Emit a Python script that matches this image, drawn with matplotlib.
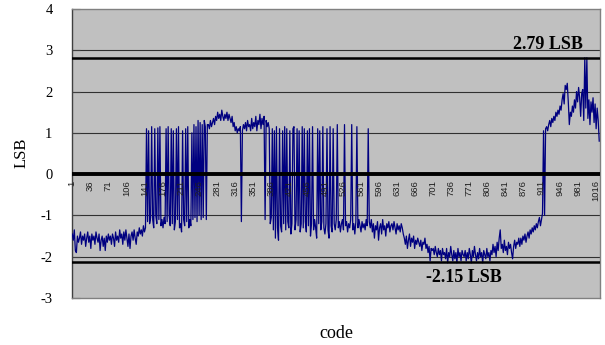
import numpy as np
import matplotlib
matplotlib.use("Agg")
import matplotlib.pyplot as plt

plt.rcParams["axes.unicode_minus"] = False

# ---- data (one value every 2 codes: 1, 3, 5, ...) ----
seg_a = [-1.45, -1.6, -1.35, -1.85, -1.9, -1.5, -1.65, -1.55, -1.4, -1.7, -1.5, -1.6,
         -1.45, -1.75, -1.55, -1.4, -1.65, -1.5, -1.8, -1.45, -1.6, -1.5, -1.7, -1.4,
         -1.55, -1.65, -1.45, -1.85, -1.6, -1.5, -1.75, -1.55, -1.85, -1.5, -1.65, -1.45,
         -1.6, -1.5, -1.7, -1.45, -1.55, -1.75, -1.4, -1.6, -1.5, -1.65, -1.35, -1.55,
         -1.45, -1.7, -1.4, -1.6, -1.35, -1.55, -1.75, -1.45, -1.8, -1.5, -1.4, -1.6,
         -1.35, -1.55, -1.7, -1.4, -1.5, -1.3, -1.45, -1.35, -1.5, -1.25, -1.4, -1.3]
seg_b = [1.1, -1.15, 1.05, -1.2, -1.05, 1.15, -1.1, -1.3, 1.1, -1.0,
         -1.2, 1.12, -1.1, 1.15, -1.25, -1.1, -1.3, -1.05, -1.2, 1.1,
         -1.15, 1.15, -1.0, -1.25, 1.1, -1.2, 1.05, -1.35, -1.15, 1.1,
         -1.1, 1.15, -1.3, -1.2, -1.4, 1.05, -1.1, -1.25, 1.1, -1.15,
         1.15, -1.3, -1.1, -1.25, 1.0, -1.1, 1.2, -1.05, 1.15, -1.15,
         1.3, -1.0, 1.25, -1.1, 1.2, -1.05, 1.3, 1.15, -1.1, 1.2]
seg_c = [1.2, 1.1, 1.3, 1.15, 1.25, 1.35, 1.2, 1.4, 1.3, 1.5,
         1.35, 1.45, 1.3, 1.55, 1.4, 1.3, 1.45, 1.35, 1.5, 1.3,
         1.45, 1.35, 1.25, 1.4, 1.15, 1.25, 1.05, 1.15, 1.0, 1.1,
         1.05, 1.15, -1.15, 1.05, 1.2, 1.1, 1.25, 1.05, 1.3, 1.15,
         1.2, 1.05, 1.35, 1.1, 1.25, 1.15, 1.4, 1.05, 1.3, 1.2,
         1.45, 1.1, 1.35, 1.2, 1.4, -1.1, 1.3, 1.15, 1.25, 1.1]
seg_d = [-1.2, -1.05, 1.1, -1.35, 1.05, -1.55, 1.15, -1.3, -1.6, 1.1,
         -1.25, -1.4, 1.05, -1.2, 1.15, -1.35, 1.1, -1.15, -1.3, 1.05,
         -1.45, -1.2, 1.1, 1.15, -1.35, -1.1, 1.1, -1.25, 1.05, -1.4,
         -1.2, 1.15, -1.3, 1.1, -1.15, -1.4, 1.05, -1.25, 1.1, -1.5,
         -1.2, 1.15, -1.35, -1.1, -1.3, -1.55, 1.1, -1.2, 1.05, -1.35,
         -1.15, 1.15, -1.3, -1.45, -1.2, 1.1, -1.35, -1.55, 1.15, -1.25,
         -1.4, 1.1, -1.2, -1.35, -1.1, 1.2, -1.3, -1.15, -1.4, -1.2,
         -1.1, -1.35, 1.2, -1.25, -1.15, -1.4, -1.2, -1.3, -1.1, 1.2,
         -1.35, -1.2, -1.45, -1.15, 1.15, -1.3, -1.1, -1.25, -1.4, -1.15,
         -1.3, -1.2, -1.35, -1.1, -1.25, 1.1]
seg_e = [-1.15, -1.3, -1.1, -1.4, -1.2, -1.55, -1.25, -1.35, -1.15, -1.6, -1.3,
         -1.2, -1.45, -1.1, -1.35, -1.25, -1.5, -1.2, -1.3, -1.15, -1.4, -1.25,
         -1.2, -1.35, -1.15, -1.3, -1.45, -1.2, -1.35, -1.25, -1.4, -1.2, -1.3, -1.45,
         -1.55, -1.7, -1.5, -1.8, -1.6, -1.45, -1.75, -1.55, -1.65, -1.5, -1.8, -1.6,
         -1.7, -1.55, -1.65, -1.75, -1.6, -1.85, -1.65, -1.7, -1.55, -1.8, -1.7, -1.9,
         -1.75, -2.1, -1.8, -1.85,
         -1.8, -1.95, -1.75, -1.9, -2.0, -1.8, -1.95, -1.85, -2.1, -1.8,
         -1.95, -1.9, -2.05, -1.8, -2.15, -1.9, -2.0, -1.75, -1.95, -2.1,
         -1.85, -2.05, -1.9, -2.15, -1.8, -2.0, -1.9, -2.1, -1.85, -1.95,
         -2.0, -1.85, -2.1, -1.9, -2.05, -1.8, -1.95, -2.15, -1.85, -2.0, -1.75, -1.95, -2.1,
         -1.9, -2.05, -1.8, -2.0, -1.9, -2.15, -1.85, -1.95, -2.05, -1.8, -2.0, -1.9, -2.1,
         -1.85, -1.95, -1.7, -1.9, -1.75, -2.0, -1.65, -1.85, -1.55, -1.35,
         -1.8, -1.7, -1.9, -1.6, -1.85, -1.75, -1.95, -1.65, -1.8, -1.7,
         -1.9, -2.05, -1.75, -1.6, -1.8, -1.65, -1.7, -1.55, -1.75,
         -1.55, -1.7, -1.5, -1.6, -1.45, -1.65, -1.5, -1.4, -1.55, -1.35, -1.45,
         -1.3, -1.4, -1.25, -1.35, -1.2, -1.3, -1.15, -1.05, -1.25, -1.1, -0.95]
seg_f = [1.05, -1.0, 1.1, 1.15, 1.05, 1.2, 1.3, 1.15, 1.35, 1.25, 1.4,
         1.3, 1.5, 1.4, 1.55, 1.45, 1.65, 1.55, 1.8, 1.95, 1.7, 2.15,
         2.05, 2.2, 1.75, 1.2, 1.5, 1.4, 1.65, 1.5, 1.8, 1.6, 2.0,
         1.75, 2.1, 1.85, 1.4, 1.95, 2.05, 1.3, 2.82, 1.6, 2.82, 1.35,
         1.8, 1.2, 1.75, 1.5, 1.85, 1.25, 1.7, 1.1, 1.6, 1.3, 0.8]

lsb = np.array(seg_a + seg_b + seg_c + seg_d + seg_e + seg_f)
codes = 1 + 2 * np.arange(len(lsb))

tick_codes = list(range(1, 1017, 35))
max_label = "2.79 LSB"
min_label = "-2.15 LSB"
max_level = 2.82
min_level = -2.12

# ---- figure ----
fig = plt.figure(figsize=(6.05, 3.45), dpi=100)
ax = fig.add_axes([72 / 605, 1 - 298 / 345, 528 / 605, 289 / 345])
ax.set_facecolor("#C0C0C0")

ax.set_xlim(0.5, 1024.5)
ax.set_ylim(-3, 4)

for yv in range(-2, 4):
    ax.axhline(yv, color="#303030", lw=0.8, zorder=1)

ax.plot(codes, lsb, color="#000080", lw=0.9, zorder=3)

ax.axhline(0, color="black", lw=2.8, zorder=4)
ax.axhline(max_level, color="black", lw=1.8, zorder=4)
ax.axhline(min_level, color="black", lw=1.8, zorder=4)

for s in ax.spines.values():
    s.set_color("#808080")
    s.set_linewidth(1.0)
ax.spines["left"].set_color("#404040")

ax.set_xticks([])
ax.set_yticks(range(-3, 5))
ax.tick_params(axis="y", direction="in", length=6, width=0.8, color="#404040",
               pad=14, labelsize=10.5)
for lab in ax.get_yticklabels():
    lab.set_fontfamily("Liberation Serif")

# category labels along the zero line
for c in tick_codes:
    ax.text(c, -0.15, str(c), rotation=90, ha="center", va="top",
            fontsize=6.8, family="Liberation Sans", color="#202020", zorder=5)

ax.text(923, 3.02, max_label, ha="center", va="baseline", fontsize=13,
        fontweight="bold", family="Liberation Serif", zorder=6)
ax.text(761, -2.62, min_label, ha="center", va="baseline", fontsize=13,
        fontweight="bold", family="Liberation Serif", zorder=6)

fig.text(22 / 605, 1 - 153 / 345, "LSB", rotation=90, ha="center", va="center",
         fontsize=12, family="Liberation Serif")
fig.text(336 / 605, 1 - 334 / 345, "code", ha="center", va="center",
         fontsize=13, family="Liberation Serif")

fig.savefig("out.png", dpi=100)
